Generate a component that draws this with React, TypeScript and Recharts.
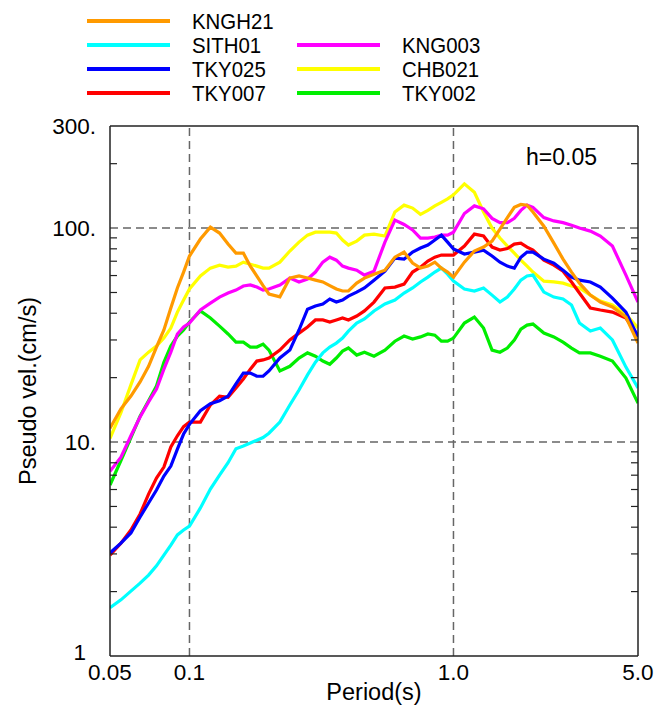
import { LineChart, Line, XAxis, YAxis, ReferenceLine } from "recharts";

// periods (s) shared by every station
const periods = [
  0.05, 0.055, 0.06, 0.065, 0.07, 0.075, 0.08, 0.085, 0.09, 0.095,
  0.1, 0.11, 0.12, 0.13, 0.14, 0.15, 0.16, 0.17, 0.18, 0.19,
  0.2, 0.22, 0.24, 0.26, 0.28, 0.3, 0.32, 0.34, 0.36, 0.38,
  0.4, 0.43, 0.46, 0.5, 0.55, 0.6, 0.65, 0.7, 0.75, 0.8,
  0.85, 0.9, 0.95, 1.0, 1.1, 1.2, 1.3, 1.4, 1.5, 1.6,
  1.7, 1.8, 1.9, 2.0, 2.2, 2.4, 2.6, 2.8, 3.0, 3.3,
  3.6, 4.0, 4.5, 5.0,
];

// pseudo velocity response (cm/s), h=0.05
const kngh21 = [
  11.6, 14.3, 16.4, 19.1, 22.6, 27.8, 33.4, 42.3, 52.5, 62.3,
  74.0, 88.9, 101, 94.8, 84.2, 76.4, 76.4, 66.4, 59.7, 53.8,
  49.2, 47.7, 58.4, 59.7, 58.4, 57.1, 56.0, 53.8, 51.9, 50.8,
  50.8, 55.3, 58.4, 60.9, 63.6, 73.1, 77.2, 68.6, 65.0, 66.4,
  69.3, 65.0, 62.3, 59.0, 69.3, 78.1, 81.5, 86.9, 99, 112,
  125, 129, 128, 119, 102, 85.1, 71.6, 62.3, 55.3, 48.6,
  45.1, 42.8, 38.4, 29.0,
];
const sith01 = [
  1.68, 1.83, 2.01, 2.19, 2.39, 2.64, 2.96, 3.3, 3.68, 3.88,
  4.05, 4.92, 6.03, 7.0, 8.0, 9.3, 9.58, 9.89, 10.2, 10.5,
  11.0, 12.4, 14.9, 17.5, 20.6, 23.6, 26.1, 27.8, 29.0, 30.6,
  33.0, 36.0, 37.6, 41.0, 44.2, 46.1, 49.7, 52.5, 56.0, 59.0,
  62.3, 65.0, 60.9, 56.5, 51.9, 50.8, 52.5, 48.6, 45.1, 47.6,
  51.9, 57.1, 59.7, 60.3, 50.2, 47.6, 46.6, 43.7, 36.0, 33.0,
  34.1, 30.0, 22.4, 17.9,
];
const tky025 = [
  3.03, 3.37, 3.76, 4.46, 5.19, 5.97, 6.94, 7.72, 9.27, 10.9,
  12.1, 14.0, 15.1, 15.6, 16.4, 18.7, 21.0, 21.0, 20.3, 20.3,
  21.5, 24.7, 26.9, 33.4, 41.8, 43.2, 44.2, 46.6, 45.1, 46.1,
  48.1, 50.2, 52.5, 57.1, 62.9, 72.4, 71.6, 77.2, 80.7, 83.3,
  87.9, 92.7, 86.0, 79.8, 75.6, 77.2, 78.9, 74.0, 69.3, 66.4,
  65.0, 73.1, 77.2, 77.2, 71.6, 68.6, 63.6, 59.0, 57.1, 56.0,
  53.0, 47.1, 40.5, 31.0,
];
const tky007 = [
  2.96, 3.37, 3.88, 4.61, 5.71, 6.79, 7.64, 9.48, 10.7, 11.8,
  12.4, 12.4, 14.9, 16.4, 16.2, 17.9, 19.7, 21.9, 23.9, 24.2,
  24.7, 26.9, 30.0, 32.3, 34.5, 37.2, 37.2, 36.4, 37.2, 38.0,
  37.2, 38.8, 41.0, 45.1, 52.5, 53.0, 54.7, 62.3, 65.7, 70.1,
  73.1, 74.8, 74.8, 74.8, 82.4, 93.7, 91.8, 81.5, 78.9, 80.2,
  84.2, 85.1, 81.5, 78.9, 70.8, 67.1, 62.9, 56.0, 49.7, 42.3,
  41.4, 40.5, 38.0, 31.3,
];
const kng003 = [
  7.3, 8.5, 10.7, 13.1, 15.4, 17.7, 21.9, 26.3, 32.0, 34.5,
  36.0, 41.4, 44.6, 47.6, 49.7, 51.3, 53.6, 54.2, 53.0, 51.3,
  51.9, 54.2, 58.4, 56.0, 57.8, 62.3, 69.3, 73.1, 70.8, 66.4,
  65.0, 63.6, 60.3, 62.9, 86.0, 109, 104, 98, 89.8, 89.8,
  90.8, 92.7, 92.7, 95.7, 117, 127, 123, 111, 106, 106,
  111, 121, 128, 125, 112, 108, 106, 103, 100, 96.8,
  91.8, 82.4, 60.3, 45.1,
];
const chb021 = [
  10.4, 13.7, 18.5, 24.2, 26.3, 28.1, 30.6, 34.1, 40.5, 46.1,
  51.9, 59.7, 65.0, 67.1, 65.7, 66.4, 69.3, 67.8, 66.4, 65.0,
  65.0, 69.3, 78.1, 86.0, 92.7, 95.7, 95.7, 95.7, 94.8, 87.9,
  83.3, 86.9, 92.7, 93.7, 91.8, 119, 128, 124, 116, 121,
  127, 132, 137, 143, 161, 147, 119, 100, 89.8, 82.4,
  76.4, 70.8, 66.4, 62.3, 56.5, 56.0, 55.3, 53.6, 52.5, 48.6,
  45.6, 43.7, 39.6, 34.1,
];
const tky002 = [
  6.3, 8.2, 10.5, 13.2, 15.6, 18.3, 23.6, 28.1, 31.3, 33.4,
  36.4, 41.0, 38.0, 34.8, 32.0, 29.3, 29.3, 27.8, 27.8, 28.7,
  26.9, 21.5, 22.6, 24.7, 26.1, 25.2, 23.9, 23.1, 24.7, 26.6,
  27.5, 25.5, 26.3, 25.2, 26.9, 29.6, 31.3, 30.3, 31.0, 32.0,
  31.6, 29.6, 29.6, 30.6, 36.0, 38.4, 34.1, 26.9, 26.3, 27.5,
  30.0, 33.7, 35.2, 35.6, 32.3, 31.0, 29.3, 27.5, 26.1, 26.1,
  25.2, 23.9, 19.9, 15.2,
];

const xTicks = [0.05, 0.1, 1, 5];
const xTickLabels = ["0.05", "0.1", "1.0", "5.0"];
const xMinorTicks = [0.06, 0.07, 0.08, 0.09, 0.2, 0.3, 0.4, 0.5, 0.6, 0.7, 0.8, 0.9, 2, 3, 4];
const yTicks = [1, 10, 100, 300];
const yTickLabels = ["1", "10.", "100.", "300."];
const yMinorTicks = [2, 3, 4, 5, 6, 7, 8, 9, 20, 30, 40, 50, 60, 70, 80, 90, 200];
const gridX = [0.1, 1];
const gridY = [10, 100];

const stations = [
  { name: "KNGH21", values: kngh21, color: "#ff9a00" },
  { name: "SITH01", values: sith01, color: "#00ffff" },
  { name: "TKY025", values: tky025, color: "#0000ff" },
  { name: "TKY007", values: tky007, color: "#ff0000" },
  { name: "KNG003", values: kng003, color: "#ff00ff" },
  { name: "CHB021", values: chb021, color: "#ffff00" },
  { name: "TKY002", values: tky002, color: "#00ee00" },
];

const data = periods.map((p, i) => {
  const row: Record<string, number> = { period: p };
  stations.forEach((s) => (row[s.name] = s.values[i]));
  return row;
});

const font = "'Liberation Sans', Arial, Helvetica, sans-serif";
const axisStroke = { stroke: "#222", strokeWidth: 1.5 };
const tickStroke = { stroke: "#222", strokeWidth: 1.2 };

// legend slots: [lineX, textX, rowY]
const legendSlots = [
  [87, 192, 21],
  [87, 192, 45],
  [87, 192, 69],
  [87, 192, 93],
  [297, 402, 45],
  [297, 402, 69],
  [297, 402, 93],
];

// y tick label; the "1" at the corner sits a bit left and up like the original
const YTick = (props: any) => {
  const { x, y, payload } = props;
  const corner = payload.value === 1;
  return (
    <text
      x={corner ? x - 10 : x}
      y={corner ? y - 4 : y}
      dy="0.355em"
      textAnchor="end"
      fontSize={22.5}
      fontFamily={font}
      fill="#000"
    >
      {yTickLabels[yTicks.indexOf(payload.value)]}
    </text>
  );
};

const Overlay = () => (
  <svg
    width={659}
    height={711}
    style={{ position: "absolute", left: 0, top: 0, pointerEvents: "none" }}
  >
    {stations.map((s, i) => {
      const [lx, tx, y] = legendSlots[i];
      return (
        <g key={s.name}>
          <line x1={lx} x2={lx + 83} y1={y} y2={y} stroke={s.color} strokeWidth={4} />
          {/* narrow face: squeeze the regular sans horizontally */}
          <text
            transform={`translate(${tx} ${y + 7.7}) scale(0.95 1)`}
            fontSize={21.5}
            fontFamily={font}
            fill="#000"
          >
            {s.name}
          </text>
        </g>
      );
    })}
    <text x={526} y={165} fontSize={23} fontFamily={font} fill="#000">
      h=0.05
    </text>
    <text x={374} y={700} fontSize={23.5} fontFamily={font} fill="#000" textAnchor="middle">
      Period(s)
    </text>
    <text
      x={36}
      y={391}
      fontSize={23.5}
      fontFamily={font}
      fill="#000"
      textAnchor="middle"
      transform="rotate(-90 36 391)"
    >
      Pseudo vel.(cm/s)
    </text>
  </svg>
);

export default function App() {
  const drawOrder = [...stations].reverse();
  return (
    <div style={{ position: "absolute", left: 0, top: 0, width: 659, height: 711, background: "#fff" }}>
      <LineChart
        width={659}
        height={711}
        data={data}
        margin={{ top: 126, right: 21, bottom: 25, left: 0 }}
      >
        <XAxis
          dataKey="period"
          type="number"
          scale="log"
          domain={[0.05, 5]}
          allowDataOverflow
          ticks={xTicks}
          interval={0}
          tickFormatter={(v: number) => xTickLabels[xTicks.indexOf(v)] ?? ""}
          tickLine={false}
          tickSize={0}
          tickMargin={8}
          height={30}
          axisLine={axisStroke}
          tick={{ fill: "#000", fontSize: 22.5, fontFamily: font }}
        />
        <XAxis
          xAxisId="bottomMinor"
          orientation="bottom"
          mirror
          type="number"
          scale="log"
          domain={[0.05, 5]}
          allowDataOverflow
          ticks={xMinorTicks}
          interval={0}
          tickFormatter={() => ""}
          tickSize={7}
          tickLine={tickStroke}
          axisLine={false}
        />
        <XAxis
          xAxisId="top"
          orientation="top"
          mirror
          type="number"
          scale="log"
          domain={[0.05, 5]}
          allowDataOverflow
          ticks={xMinorTicks}
          interval={0}
          tickFormatter={() => ""}
          tickSize={7}
          tickLine={tickStroke}
          axisLine={axisStroke}
        />
        <YAxis
          type="number"
          scale="log"
          domain={[1, 300]}
          allowDataOverflow
          ticks={yTicks}
          interval={0}
          tick={<YTick />}
          tickLine={false}
          tickSize={0}
          tickMargin={14}
          width={110}
          axisLine={axisStroke}
        />
        <YAxis
          yAxisId="leftMinor"
          orientation="left"
          mirror
          type="number"
          scale="log"
          domain={[1, 300]}
          allowDataOverflow
          ticks={yMinorTicks}
          interval={0}
          tickFormatter={() => ""}
          tickSize={7}
          tickLine={tickStroke}
          axisLine={false}
        />
        <YAxis
          yAxisId="right"
          orientation="right"
          mirror
          type="number"
          scale="log"
          domain={[1, 300]}
          allowDataOverflow
          ticks={yMinorTicks}
          interval={0}
          tickFormatter={() => ""}
          tickSize={7}
          tickLine={tickStroke}
          axisLine={axisStroke}
        />
        {gridX.map((x) => (
          <ReferenceLine key={"gx" + x} x={x} stroke="#666" strokeWidth={1.5} strokeDasharray="8 5" />
        ))}
        {gridY.map((y) => (
          <ReferenceLine key={"gy" + y} y={y} stroke="#666" strokeWidth={1.5} strokeDasharray="8 5" />
        ))}
        {drawOrder.map((s) => (
          <Line
            key={s.name}
            dataKey={s.name}
            type="linear"
            stroke={s.color}
            strokeWidth={3.2}
            dot={false}
            activeDot={false}
            isAnimationActive={false}
          />
        ))}
      </LineChart>
      <Overlay />
    </div>
  );
}
